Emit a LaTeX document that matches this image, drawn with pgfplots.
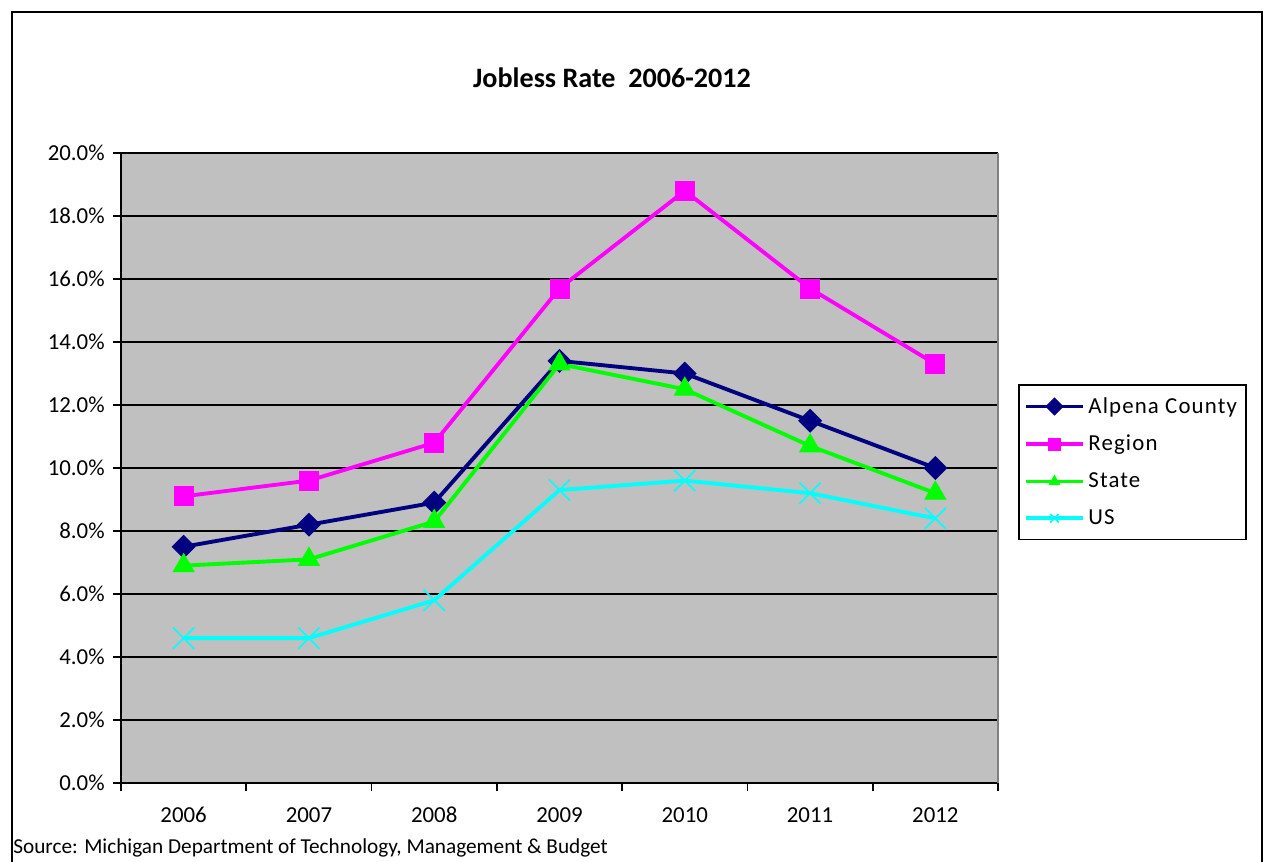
\documentclass[border=0pt]{standalone}
\usepackage{pgfplots}
\pgfplotsset{compat=1.18}
\usepackage{fontspec}
\setmainfont{Carlito}
\newfontfamily\legfont[LetterSpace=5]{Carlito}
\definecolor{cNavy}{RGB}{0,0,128}
\definecolor{cMag}{RGB}{255,0,255}
\definecolor{cGreen}{RGB}{0,255,0}
\definecolor{cCyan}{RGB}{0,255,255}
\definecolor{cPlot}{RGB}{192,192,192}
\begin{document}
\begin{tikzpicture}
\useasboundingbox (0,0) rectangle (25.26cm,17.24cm);
\draw[black, line width=0.9pt] (0.24cm,-0.4cm) -- (0.24cm,17.0cm) -- (25.24cm,17.0cm) -- (25.24cm,-0.4cm);
\node[font=\fontsize{16}{19}\selectfont\bfseries] at (12.24cm,15.68cm) {Jobless Rate\ \ 2006-2012};
\node[anchor=west, font=\fontsize{12.1}{14}\selectfont, inner sep=0pt] at (0.26cm,0.28cm) {Source: Michigan Department of Technology, Management \& Budget};
\begin{axis}[
  at={(2.42cm,1.58cm)}, anchor=south west,
  scale only axis, width=17.54cm, height=12.6cm,
  xmin=-0.5, xmax=6.5, ymin=0, ymax=20,
  axis background/.style={fill=cPlot},
  axis x line=bottom, axis y line=left,
  axis line style={black, line width=0.9pt, -},
  xtick={0,...,6},
  xticklabels={2006,2007,2008,2009,2010,2011,2012},
  xtick style={draw=none},
  major tick length=0.16cm,
  extra x ticks={-0.5,0.5,1.5,2.5,3.5,4.5,5.5,6.5},
  extra x tick labels={},
  extra x tick style={tick align=outside, xtick style={draw=black, line width=0.9pt}, grid=none},
  xticklabel style={anchor=center, yshift=-0.48cm},
  ytick={0,2,...,20},
  yticklabels={0.0\%,2.0\%,4.0\%,6.0\%,8.0\%,10.0\%,12.0\%,14.0\%,16.0\%,18.0\%,20.0\%},
  ytick style={black, line width=0.9pt},
  tick align=outside,
  yticklabel style={anchor=east, inner sep=0pt, xshift=-0.16cm},
  ticklabel style={font=\fontsize{13}{15}\selectfont},
  /pgf/number format/assume math mode=true,
  ymajorgrids, major grid style={black, line width=1pt},
  clip=false,
  legend style={at={(1.0228,0.633)}, anchor=north west, draw=black, line width=0.9pt,
    fill=white, font=\legfont\fontsize{13}{15}\selectfont, row sep=7pt, inner xsep=3pt, inner ysep=5pt,
    nodes={inner sep=2pt}},
  legend cell align=left,
  legend image code/.code={\draw[mark repeat=2,mark phase=2, mark size=0.12cm] plot coordinates {(0cm,0cm) (0.57cm,0cm) (1.14cm,0cm)};},
]
\draw[gray, line width=0.8pt] (rel axis cs:1,0) -- (rel axis cs:1,1);
\addplot[cNavy, line width=2.2pt, mark=square*, mark size=0.16cm, mark options={solid, rotate=45, fill=cNavy, line width=0.5pt}]
  coordinates {(0,7.5) (1,8.2) (2,8.9) (3,13.4) (4,13.0) (5,11.5) (6,10.0)};
\addlegendentry{Alpena County}
\addplot[cMag, line width=2.2pt, mark=square*, mark size=0.19cm, mark options={solid, fill=cMag, line width=0.5pt}]
  coordinates {(0,9.1) (1,9.6) (2,10.8) (3,15.7) (4,18.8) (5,15.7) (6,13.3)};
\addlegendentry{Region}
\addplot[cGreen, line width=2.2pt, mark=triangle*, mark size=0.24cm, mark options={solid, fill=cGreen, line width=0.5pt}]
  coordinates {(0,6.9) (1,7.1) (2,8.3) (3,13.3) (4,12.5) (5,10.7) (6,9.2)};
\addlegendentry{State}
\addplot[cCyan, line width=2.2pt, mark=x, mark size=0.3cm, mark options={solid, line width=0.9pt}]
  coordinates {(0,4.6) (1,4.6) (2,5.8) (3,9.3) (4,9.6) (5,9.2) (6,8.4)};
\addlegendentry{US}
\end{axis}
\end{tikzpicture}
\end{document}
